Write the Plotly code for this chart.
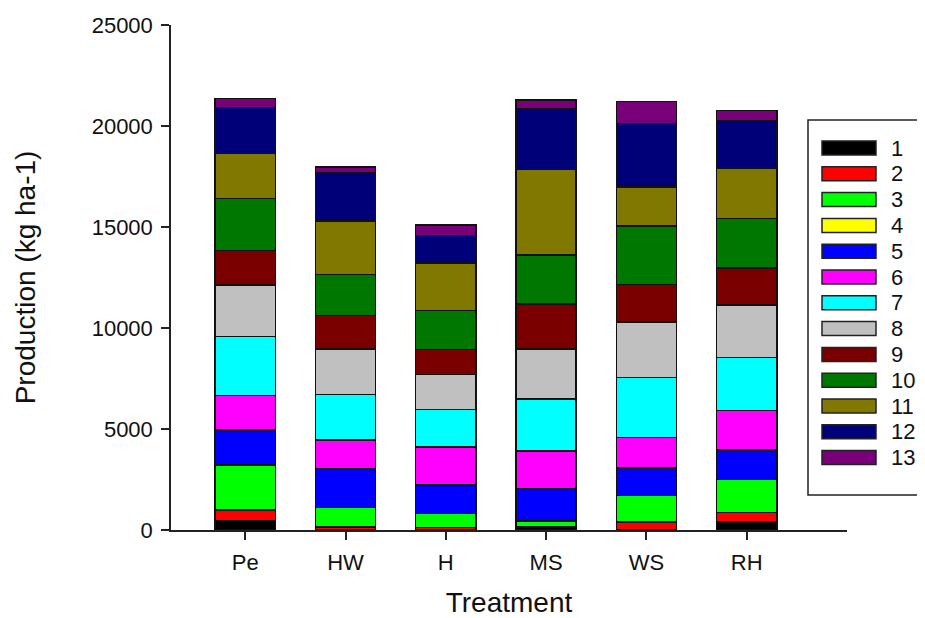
import plotly.graph_objects as go

treatments = ["Pe", "HW", "H", "MS", "WS", "RH"]
series_names = ["1", "2", "3", "4", "5", "6", "7", "8", "9", "10", "11", "12", "13"]
s1 = [460, 30, 20, 120, 20, 390]
s2 = [530, 120, 100, 30, 380, 470]
s3 = [2230, 970, 700, 290, 1320, 1650]
s4 = [0, 0, 0, 0, 0, 0]
s5 = [1730, 1930, 1400, 1620, 1350, 1440]
s6 = [1720, 1400, 1900, 1850, 1500, 1960]
s7 = [2900, 2260, 1850, 2570, 2970, 2640]
s8 = [2570, 2240, 1720, 2490, 2760, 2590]
s9 = [1700, 1670, 1240, 2210, 1860, 1830]
s10 = [2560, 2030, 1930, 2440, 2890, 2460]
s11 = [2240, 2640, 2360, 4230, 1930, 2480]
s12 = [2280, 2410, 1370, 2990, 3140, 2360]
s13 = [450, 280, 500, 450, 1100, 500]
series_values = [s1, s2, s3, s4, s5, s6, s7, s8, s9, s10, s11, s12, s13]
colors = ["#000000", "#FF0000", "#00FF00", "#FFFF00", "#0000FF", "#FF00FF",
          "#00FFFF", "#C0C0C0", "#7A0000", "#007800", "#807800", "#000078", "#780078"]

FONT = "Liberation Sans, Arial, sans-serif"
OFF = 8  # default page body margin
W, H = 925 - OFF, 618 - OFF
L, T = 171 - OFF, 25 - OFF
pw, ph = 676, 505
R, B = W - L - pw, H - T - ph

fig = go.Figure()
for name, vals, col in zip(series_names, series_values, colors):
    fig.add_trace(go.Bar(x=treatments, y=vals, name=name, width=0.6,
                         marker=dict(color=col, line=dict(color="#111111", width=1.5)),
                         showlegend=False))

# helpers: page pixel -> paper coords
def px_x(p):
    return (p - OFF - L) / pw

def px_y(p):
    return (T + ph - (p - OFF)) / ph

shapes = []
annotations = []
shapes.append(dict(type="rect", xref="paper", yref="paper",
                   x0=px_x(808), x1=px_x(940), y0=px_y(495), y1=px_y(120),
                   line=dict(color="#222222", width=1.5), fillcolor="white", layer="above"))
for i, (name, col) in enumerate(zip(series_names, colors)):
    cy = 148 + 25.8 * i
    shapes.append(dict(type="rect", xref="paper", yref="paper",
                       x0=px_x(822), x1=px_x(876), y0=px_y(cy + 7), y1=px_y(cy - 7),
                       line=dict(color="#222222", width=1.5), fillcolor=col, layer="above"))
    annotations.append(dict(text=name, xref="paper", yref="paper",
                            x=px_x(889), y=px_y(cy), xanchor="left", yanchor="middle",
                            showarrow=False, font=dict(family=FONT, size=22, color="#111111")))

fig.update_layout(
    barmode="stack",
    width=W, height=H,
    margin=dict(l=L, r=R, t=T, b=B, autoexpand=False),
    plot_bgcolor="white", paper_bgcolor="white",
    font=dict(family=FONT, size=22, color="#111111"),
    shapes=shapes, annotations=annotations,
    xaxis=dict(range=[-0.74, 6.0], showline=True, linecolor="#222222", linewidth=1.5,
               ticks="outside", ticklen=8, tickwidth=1.5, tickcolor="#222222",
               showgrid=False, zeroline=False, ticklabelstandoff=4,
               tickfont=dict(family=FONT, size=22, color="#111111"),
               title=dict(text="Treatment", font=dict(family=FONT, size=28, color="#111111"),
                          standoff=25)),
    yaxis=dict(range=[0, 25000], dtick=5000, showline=True, linecolor="#222222", linewidth=1.5,
               ticks="outside", ticklen=8, tickwidth=1.5, tickcolor="#222222",
               showgrid=False, zeroline=False, tickformat="d", ticklabelstandoff=4,
               tickfont=dict(family=FONT, size=22, color="#111111"),
               title=dict(text="Production (kg ha-1)",
                          font=dict(family=FONT, size=28, color="#111111"), standoff=48)),
)

fig.write_html("out.html")
